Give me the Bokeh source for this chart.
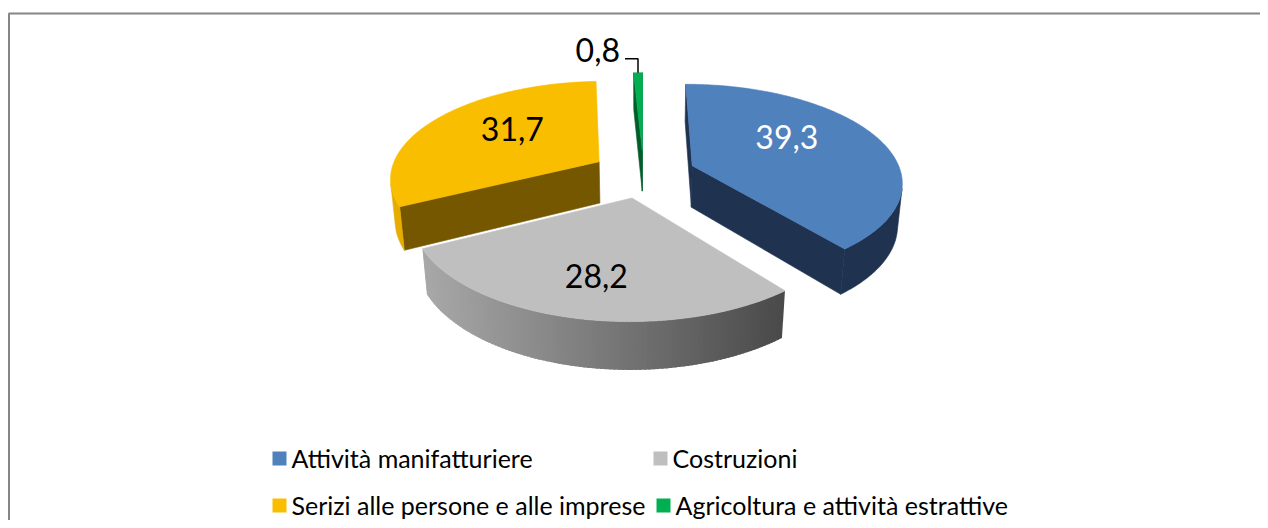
import numpy as np
from bokeh.plotting import figure
from bokeh.models import Range1d, ColumnDataSource
from bokeh.core.properties import value
from bokeh.embed import file_html
from bokeh.resources import INLINE

# ---------------- data ----------------
categories = ["Attività manifatturiere", "Costruzioni",
              "Serizi alle persone e alle imprese", "Agricoltura e attività estrattive"]
values = [39.3, 28.2, 31.7, 0.8]
value_labels = ["39,3", "28,2", "31,7", "0,8"]

# ---------------- styles ----------------
top_colors = ["#4F81BD", "#BFBFBF", "#FABE00", "#00B050"]
cut_colors = ["#1F3350", "#7F7F7F", "#755700", "#005E2B"]
rim_colors = [("#1F3350", "#1F3350"), ("#A8A8A8", "#4A4A4A"),
              ("#E6AC00", "#E6AC00"), ("#005E2B", "#005E2B")]
label_colors = ["white", "black", "black", "black"]
FONT = "Lato"

# ---------------- 3D projection layout (picture pixel space) ----------------
W, H_ = 1260, 520
CX, CY = 643.0, 173.0          # projected pie centre
D = 5.76                       # camera distance (in radii)
F = D * 209.0                  # focal scale
ALPHA = np.radians(27.4)       # elevation
SA, CA = np.sin(ALPHA), np.cos(ALPHA)
EXPLODE = 0.25
THICK = 0.23
CAM = np.array([0.0, D * SA, -D * CA])


def proj(X, Y, Z):
    v = Z * SA + Y * CA
    w = Z * CA - Y * SA
    s = F / (D + w)
    return CX + X * s, CY - v * s, w


def hex2rgb(h):
    return np.array([int(h[j:j + 2], 16) for j in (1, 3, 5)], dtype=float)


total = float(sum(values))
fracs = [v / total for v in values]
bounds = np.concatenate([[0.0], np.cumsum(fracs) * 360.0])

slices = []
for i, fr in enumerate(fracs):
    a0, a1 = np.radians(bounds[i]), np.radians(bounds[i + 1])
    mid = 0.5 * (a0 + a1)
    ox, oz = EXPLODE * np.sin(mid), EXPLODE * np.cos(mid)
    slices.append(dict(i=i, a0=a0, a1=a1, mid=mid, ox=ox, oz=oz))

polys_x, polys_y, polys_c, polys_la = [], [], [], []


def quad(pts):
    xs, ys, ws = [], [], []
    for (X, Y, Z) in pts:
        x, y, w = proj(X, Y, Z)
        xs.append(x); ys.append(y); ws.append(w)
    return xs, ys, float(np.mean(ws))


for s in sorted(slices, key=lambda d: -d["oz"]):
    i, a0, a1, ox, oz = s["i"], s["a0"], s["a1"], s["ox"], s["oz"]
    n = max(3, int(np.degrees(a1 - a0) / 1.0) + 2)
    ts = np.linspace(a0, a1, n)
    apex = np.array([ox, 0.0, oz])
    faces = []  # (depth, xs, ys, color, line_alpha)

    # radial cut faces
    for ang, nrm in ((a0, np.array([-np.cos(a0), 0, np.sin(a0)])),
                     (a1, np.array([np.cos(a1), 0, -np.sin(a1)]))):
        if np.dot(CAM - apex, nrm) > 0:
            rx, rz = ox + np.sin(ang), oz + np.cos(ang)
            xs, ys, w = quad([(ox, 0, oz), (rx, 0, rz), (rx, -THICK, rz), (ox, -THICK, oz)])
            faces.append((w, xs, ys, cut_colors[i], 1.0))

    # curved outer side: visible segments
    vis = []
    for k in range(len(ts) - 1):
        tm = 0.5 * (ts[k] + ts[k + 1])
        nrm = np.array([np.sin(tm), 0, np.cos(tm)])
        P = np.array([ox + np.sin(tm), 0, oz + np.cos(tm)])
        if np.dot(CAM - P, nrm) > 0:
            vis.append(k)
    if vis:
        k0, k1 = vis[0], vis[-1] + 1
        run = ts[k0:k1 + 1]
        c0, c1 = hex2rgb(rim_colors[i][0]), hex2rgb(rim_colors[i][1])
        if rim_colors[i][0] == rim_colors[i][1]:
            pts = [(ox + np.sin(t), 0, oz + np.cos(t)) for t in run] + \
                  [(ox + np.sin(t), -THICK, oz + np.cos(t)) for t in run[::-1]]
            xs, ys, w = quad(pts)
            faces.append((w, xs, ys, rim_colors[i][0], 1.0))
        else:
            segs = []
            for k in range(len(run) - 1):
                t1 = run[k]
                t2 = min(run[-1], run[k + 1] + 0.6 * (run[k + 1] - run[k]))
                pts = [(ox + np.sin(t1), 0, oz + np.cos(t1)), (ox + np.sin(t2), 0, oz + np.cos(t2)),
                       (ox + np.sin(t2), -THICK, oz + np.cos(t2)), (ox + np.sin(t1), -THICK, oz + np.cos(t1))]
                xs, ys, w = quad(pts)
                segs.append((w, xs, ys, float(np.mean(xs))))
            xmin = min(g[3] for g in segs); xmax = max(g[3] for g in segs)
            for (w, xs, ys, cx) in segs:
                t = (cx - xmin) / (xmax - xmin) if xmax > xmin else 0.0
                c = (c0 + (c1 - c0) * t).round().astype(int)
                faces.append((-1e3 + k0, xs, ys, "#%02x%02x%02x" % tuple(c), 0.0))
            # keep quads in sweep order (overlap chain) but after farther faces
            faces = [f for f in faces if f[4] == 1.0] + [f for f in faces if f[4] == 0.0]
            for f in faces:
                polys_x.append(f[1]); polys_y.append(f[2]); polys_c.append(f[3]); polys_la.append(f[4])
            faces = []

    for (w, xs, ys, c, la) in sorted(faces, key=lambda f: -f[0]):
        polys_x.append(xs); polys_y.append(ys); polys_c.append(c); polys_la.append(la)

    # top face
    pts = [(ox, 0, oz)] + [(ox + np.sin(t), 0, oz + np.cos(t)) for t in ts]
    xs, ys, _ = quad(pts)
    polys_x.append(xs); polys_y.append(ys); polys_c.append(top_colors[i]); polys_la.append(1.0)

p = figure(width=W, height=H_, x_range=Range1d(0, W), y_range=Range1d(H_, 0),
           output_backend="svg", toolbar_location=None, min_border=0,
           x_axis_type=None, y_axis_type=None, outline_line_color=None,
           background_fill_color="white", border_fill_color="white")
p.grid.visible = False

# chart border (top + left visible in the crop)
p.line([8.5, 8.5, W], [H_, 13, 13], line_color="#868686", line_width=2)

p.patches(xs="xs", ys="ys", fill_color="c", line_color="c", line_alpha="la", line_width=0.6,
          source=ColumnDataSource(dict(xs=polys_x, ys=polys_y, c=polys_c, la=polys_la)))

# ---------------- value labels ----------------
label_nudge = [(-1, -13), (-5, 13), (7, -8)]
lx, ly, lt, lc = [], [], [], []
for s in slices[:3]:
    i = s["i"]
    half = 0.5 * (s["a1"] - s["a0"])
    r = (2.0 / 3.0) * np.sin(half) / half
    x, y, _ = proj(s["ox"] + r * np.sin(s["mid"]), 0, s["oz"] + r * np.cos(s["mid"]))
    lx.append(x + label_nudge[i][0]); ly.append(y + label_nudge[i][1])
    lt.append(value_labels[i]); lc.append(label_colors[i])
p.text(x="x", y="y", text="t", text_color="c",
       source=ColumnDataSource(dict(x=lx, y=ly, t=lt, c=lc)),
       text_font=value(FONT), text_font_size="32px",
       text_align="center", text_baseline="middle")

# small slice: outside label with leader line
g = slices[3]
gx, gy, _ = proj(g["ox"] + np.sin(g["mid"]), 0, g["oz"] + np.cos(g["mid"]))
p.line([gx, gx, gx - 13], [gy, gy - 14, gy - 14], line_color="black", line_width=1.5)
p.text(x=[gx - 18], y=[gy - 23], text=[value_labels[3]], text_color="black",
       text_font=value(FONT), text_font_size="32px",
       text_align="right", text_baseline="middle")

# ---------------- legend ----------------
leg_text_x = [291, 672, 291, 675]
leg_mid_y = [457, 457, 504, 504]
sq_x = [x - 12 for x in leg_text_x]
sq_y = [y + 1 for y in leg_mid_y]
p.scatter(x=sq_x, y=sq_y, marker="square", size=14, fill_color=top_colors,
          line_color=None)
p.text(x=leg_text_x, y=leg_mid_y, text=categories, text_color="black",
       text_font=value(FONT), text_font_size="25px",
       text_align="left", text_baseline="middle")

open("out.html", "w").write(file_html(p, INLINE))
